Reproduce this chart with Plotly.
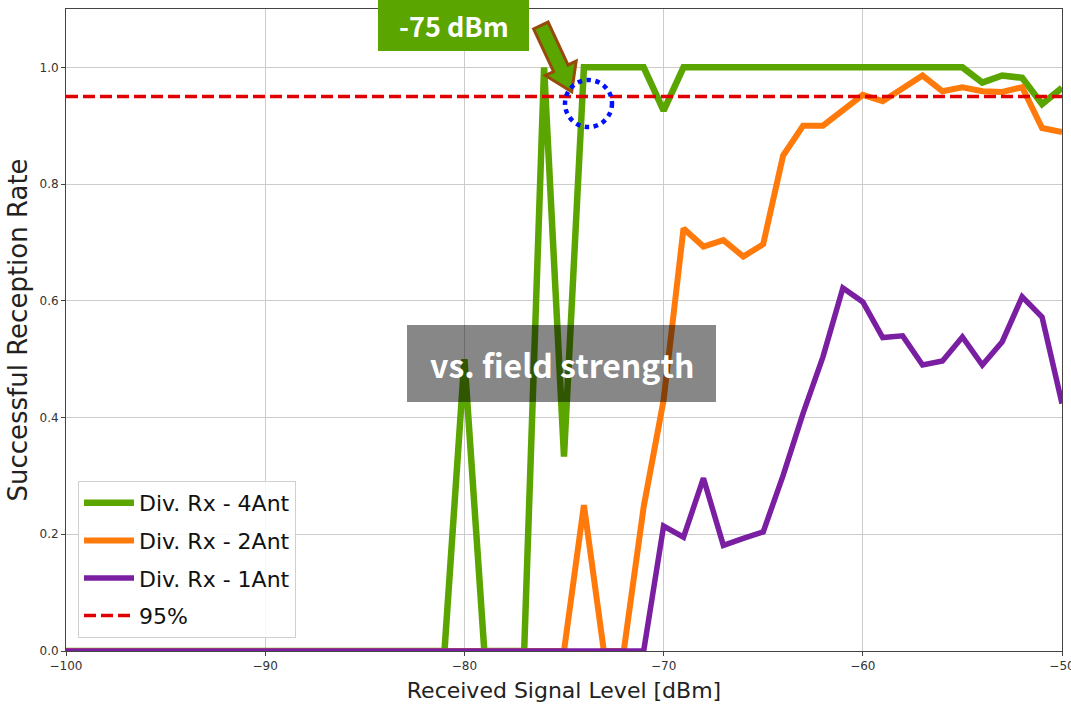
import plotly.graph_objects as go

# ---------------- data ----------------
rx_level = list(range(-100, -49))  # -100 ... -50 dBm

ant4 = [0.0] * 19 + [0.0, 0.5, 0.0, 0.0, 0.0, 1.0, 0.333, 1.0, 1.0, 1.0, 1.0,
                     0.926, 1.0, 1.0, 1.0, 1.0, 1.0, 1.0, 1.0, 1.0, 1.0, 1.0,
                     1.0, 1.0, 1.0, 1.0, 1.0, 0.974, 0.986, 0.982, 0.937, 0.965]
ant2 = [0.0] * 25 + [0.0, 0.25, 0.0, 0.0, 0.247, 0.43, 0.724, 0.693, 0.704, 0.676,
                     0.697, 0.849, 0.90, 0.90, 0.926, 0.953, 0.942, 0.965, 0.986,
                     0.959, 0.966, 0.959, 0.958, 0.966, 0.896, 0.889]
ant1 = [0.0] * 29 + [0.0, 0.214, 0.195, 0.296, 0.181, 0.193, 0.204, 0.301, 0.407,
                     0.504, 0.622, 0.598, 0.537, 0.54, 0.49, 0.497, 0.538, 0.49,
                     0.53, 0.607, 0.572, 0.424]
threshold = 0.95

series_names = ["Div. Rx - 4Ant", "Div. Rx - 2Ant", "Div. Rx - 1Ant", "95%"]
x_ticks = [-100, -90, -80, -70, -60, -50]
x_tick_labels = ["\u2212100", "\u221290", "\u221280", "\u221270", "\u221260", "\u221250"]
y_ticks = [0.0, 0.2, 0.4, 0.6, 0.8, 1.0]
y_tick_labels = ["0.0", "0.2", "0.4", "0.6", "0.8", "1.0"]

# ---------------- layout geometry ----------------
W, H = 1071, 706
ML, MR, MT, MB = 66, 9, 9, 55
PW, PH = W - ML - MR, H - MT - MB

def px(x):
    return (x - ML) / PW

def py(y):
    return (H - MB - y) / PH

GREEN = "#5BA500"
ORANGE = "#FF7A0A"
PURPLE = "#7A1FA2"
RED = "#E00000"

fig = go.Figure()
fig.add_trace(go.Scatter(x=rx_level, y=ant4, mode="lines", name=series_names[0],
                         line=dict(color=GREEN, width=6.5), legendgroup="a"))
fig.add_trace(go.Scatter(x=rx_level, y=ant2, mode="lines", name=series_names[1],
                         line=dict(color=ORANGE, width=6), legendgroup="b"))
fig.add_trace(go.Scatter(x=rx_level, y=ant1, mode="lines", name=series_names[2],
                         line=dict(color=PURPLE, width=5.5), legendgroup="c"))
fig.add_trace(go.Scatter(x=[rx_level[0], rx_level[-1]], y=[threshold, threshold],
                         mode="lines", name=series_names[3],
                         line=dict(color=RED, width=3.5, dash="12px,5px"),
                         legendgroup="d"))

tick_font = dict(family="DejaVu Sans", size=12, color="#333333")

fig.update_xaxes(range=[-100, -50], tickvals=x_ticks, ticktext=x_tick_labels,
                 showgrid=True, gridcolor="#cccccc", gridwidth=1,
                 showline=True, linecolor="#444444", linewidth=1, mirror=True,
                 ticks="outside", ticklen=4, tickcolor="#444444",
                 tickfont=tick_font, zeroline=False, automargin=False,
                 ticklabeloverflow="allow",
                 title=dict(text="Received Signal Level [dBm]",
                            font=dict(family="DejaVu Sans", size=22, color="#222222"),
                            standoff=10))
fig.update_yaxes(range=[0, 1.1], tickvals=y_ticks, ticktext=y_tick_labels,
                 showgrid=True, gridcolor="#cccccc", gridwidth=1,
                 showline=True, linecolor="#444444", linewidth=1, mirror=True,
                 ticks="outside", ticklen=4, tickcolor="#444444",
                 tickfont=tick_font, zeroline=False, automargin=False,
                 ticklabeloverflow="allow",
                 title=dict(text="Successful Reception Rate",
                            font=dict(family="DejaVu Sans", size=26, color="#222222"),
                            standoff=4))

shapes = []
annotations = []

# green "-75 dBm" box
shapes.append(dict(type="rect", xref="paper", yref="paper",
                   x0=px(378), x1=px(529), y0=py(51), y1=py(0),
                   fillcolor=GREEN, line=dict(width=0), layer="above"))
annotations.append(dict(xref="paper", yref="paper", x=px(453.5), y=py(26),
                        text="<b>-75 dBm</b>", showarrow=False,
                        font=dict(family="Noto Sans CJK KR", size=27, color="white"),
                        xanchor="center", yanchor="middle"))

# block arrow
arrow_pts = [(533.6, 28.9), (553.6, 71.7), (545.4, 75.5), (571.7, 91.7),
             (576.2, 61.1), (568.0, 64.9), (548.1, 22.1)]
path = "M " + " L ".join(f"{px(a):.5f},{py(b):.5f}" for a, b in arrow_pts) + " Z"
shapes.append(dict(type="path", xref="paper", yref="paper", path=path,
                   fillcolor=GREEN, line=dict(color="#984A0C", width=3), layer="above"))

# blue dotted circle
shapes.append(dict(type="circle", xref="paper", yref="paper",
                   x0=px(565), x1=px(612), y0=py(127), y1=py(80),
                   line=dict(color="#0010FF", width=4.5, dash="dot"), layer="above"))

# gray label box
shapes.append(dict(type="rect", xref="paper", yref="paper",
                   x0=px(407), x1=px(716), y0=py(402), y1=py(325),
                   fillcolor="rgba(0,0,0,0.47)", line=dict(width=0), layer="above"))
annotations.append(dict(xref="paper", yref="paper", x=px(561.5), y=py(364),
                        text="<b>vs. field strength</b>", showarrow=False,
                        font=dict(family="Noto Sans CJK KR", size=32, color="white"),
                        xanchor="center", yanchor="middle"))

fig.update_layout(
    width=W, height=H,
    margin=dict(l=ML, r=MR, t=MT, b=MB, autoexpand=False),
    plot_bgcolor="white", paper_bgcolor="white",
    shapes=shapes, annotations=annotations,
    legend=dict(x=px(78), y=py(638), xanchor="left", yanchor="bottom",
                bgcolor="rgba(255,255,255,0.85)", bordercolor="#d0d0d0", borderwidth=1,
                font=dict(family="DejaVu Sans", size=22, color="#111111"),
                traceorder="grouped", tracegroupgap=6, itemwidth=50),
    showlegend=True,
)

fig.write_html("out.html", config={"displayModeBar": False},
               post_script="document.body.style.margin='0';document.body.style.padding='0';")
